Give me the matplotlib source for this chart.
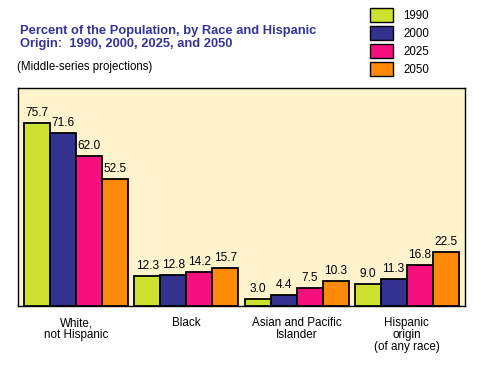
import numpy as np
import matplotlib
matplotlib.use('Agg')
import matplotlib.pyplot as plt
from matplotlib.patches import Rectangle

# data
groups = ['White,\nnot Hispanic', 'Black', 'Asian and Pacific\nIslander',
          'Hispanic\norigin\n(of any race)']
years = ['1990', '2000', '2025', '2050']
v1990 = [75.7, 12.3, 3.0, 9.0]
v2000 = [71.6, 12.8, 4.4, 11.3]
v2025 = [62.0, 14.2, 7.5, 16.8]
v2050 = [52.5, 15.7, 10.3, 22.5]
series = [v1990, v2000, v2025, v2050]
colors = ['#CCE22E', '#33338F', '#F5107E', '#FF8A0A']

plt.rcParams['font.family'] = ['Liberation Sans', 'DejaVu Sans']

fig = plt.figure(figsize=(4.88, 3.66), dpi=100)
fig.patch.set_facecolor('white')
W, H = 488, 366
ax = fig.add_axes([18 / W, 1 - 306 / H, (465 - 18) / W, (306 - 88) / H])
ax.set_facecolor('#FEF3CC')

x = np.arange(len(groups))
bw = 0.236
for i, (vals, c) in enumerate(zip(series, colors)):
    pos = x + (i - 1.5) * bw
    ax.bar(pos, vals, width=bw, color=c, edgecolor='black', linewidth=1.3,
           zorder=3)
    for p, v in zip(pos, vals):
        ax.text(p, v + 1.6, f'{v:.1f}', ha='center', va='bottom',
                fontsize=8.6, zorder=4)

ax.set_xlim(-0.53, 3.53)
ax.set_ylim(0, 90)
ax.set_xticks(x)
ax.set_xticklabels(groups, fontsize=8.4, linespacing=1.0)
ax.tick_params(axis='x', length=0, pad=8)
ax.set_yticks([])
for s in ax.spines.values():
    s.set_linewidth(1.0)

# title block
fig.text(20 / W, 1 - 37.5 / H, 'Percent of the Population, by Race and Hispanic\n'
         'Origin:  1990, 2000, 2025, and 2050', ha='left', va='center',
         fontsize=9.3, fontweight='bold', color='#333399', linespacing=1.1)
fig.text(17 / W, 1 - 67 / H, '(Middle-series projections)', ha='left',
         va='center', fontsize=8.3)

# legend boxes drawn on the figure
ytops = [8, 26, 44, 62]
for yr, c, yt in zip(years, colors, ytops):
    fig.patches.append(Rectangle((370 / W, 1 - (yt + 14) / H), 23 / W, 14 / H,
                                 transform=fig.transFigure, facecolor=c,
                                 edgecolor='black', linewidth=1.0))
    fig.text(403 / W, 1 - (yt + 8) / H, yr, ha='left', va='center',
             fontsize=8.3)

fig.savefig('out.png', dpi=100)
